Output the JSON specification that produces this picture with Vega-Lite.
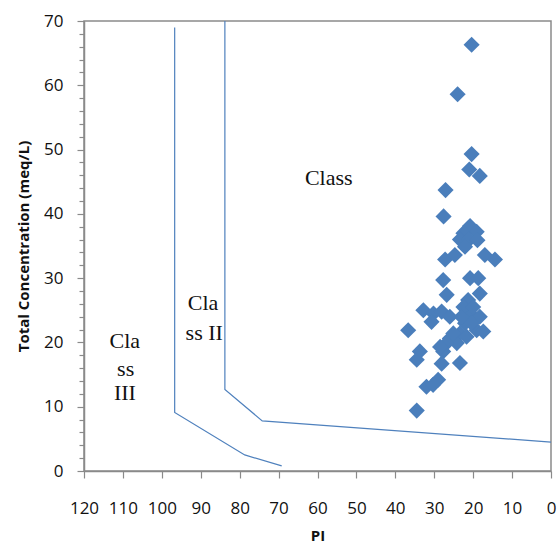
{
  "$schema": "https://vega.github.io/schema/vega-lite/v6.json",
  "width": 467,
  "height": 450,
  "autosize": "none",
  "padding": {"left": 84, "top": 21, "right": 9, "bottom": 76},
  "background": "white",
  "config": {
    "view": {"stroke": "#8a8a8a", "strokeWidth": 1.5},
    "axis": {
      "domainColor": "#8a8a8a",
      "domainWidth": 1.5,
      "tickColor": "#8a8a8a",
      "tickWidth": 1.2,
      "grid": false,
      "labelFont": "Open Sans",
      "labelFontSize": 17,
      "labelColor": "#111111",
      "titleFont": "Open Sans",
      "titleFontSize": 15,
      "titleFontWeight": "bold",
      "titleColor": "#111111"
    }
  },
  "datasets": {
    "samples": [
      {"pi": 20.4, "tc": 66.3}, {"pi": 24.0, "tc": 58.6}, {"pi": 20.4, "tc": 49.3},
      {"pi": 21.0, "tc": 46.9}, {"pi": 18.3, "tc": 45.9}, {"pi": 27.1, "tc": 43.7},
      {"pi": 27.6, "tc": 39.6}, {"pi": 20.8, "tc": 38.1}, {"pi": 19.1, "tc": 37.2},
      {"pi": 22.5, "tc": 37.0}, {"pi": 23.4, "tc": 36.0}, {"pi": 21.0, "tc": 36.0},
      {"pi": 18.9, "tc": 35.9}, {"pi": 22.1, "tc": 34.9}, {"pi": 27.2, "tc": 32.9},
      {"pi": 24.7, "tc": 33.6}, {"pi": 17.0, "tc": 33.6}, {"pi": 14.4, "tc": 32.9},
      {"pi": 27.7, "tc": 29.7}, {"pi": 20.8, "tc": 30.0}, {"pi": 18.7, "tc": 30.0},
      {"pi": 18.3, "tc": 27.6}, {"pi": 26.8, "tc": 27.4}, {"pi": 21.3, "tc": 26.6},
      {"pi": 32.8, "tc": 25.0}, {"pi": 30.2, "tc": 24.5}, {"pi": 28.1, "tc": 24.8},
      {"pi": 26.0, "tc": 24.0}, {"pi": 30.7, "tc": 23.2}, {"pi": 20.8, "tc": 24.5},
      {"pi": 18.3, "tc": 24.0}, {"pi": 36.7, "tc": 21.9}, {"pi": 22.1, "tc": 23.0},
      {"pi": 23.4, "tc": 21.4}, {"pi": 19.1, "tc": 21.9}, {"pi": 17.4, "tc": 21.7},
      {"pi": 26.0, "tc": 20.6}, {"pi": 24.2, "tc": 19.9}, {"pi": 33.7, "tc": 18.6},
      {"pi": 34.5, "tc": 17.3}, {"pi": 27.7, "tc": 18.6}, {"pi": 28.1, "tc": 16.7},
      {"pi": 23.4, "tc": 16.8}, {"pi": 32.0, "tc": 13.1}, {"pi": 29.0, "tc": 14.2},
      {"pi": 30.3, "tc": 13.4}, {"pi": 34.5, "tc": 9.4}, {"pi": 22.5, "tc": 25.5},
      {"pi": 20.0, "tc": 25.5}, {"pi": 23.0, "tc": 24.0}, {"pi": 20.4, "tc": 23.0},
      {"pi": 25.1, "tc": 21.4}, {"pi": 21.7, "tc": 20.9}, {"pi": 26.8, "tc": 19.9},
      {"pi": 28.5, "tc": 19.3}
    ],
    "bounds": [
      {"line": "A", "ord": 1, "pi": 96.7, "tc": 69.0},
      {"line": "A", "ord": 2, "pi": 96.7, "tc": 9.1},
      {"line": "A", "ord": 3, "pi": 78.7, "tc": 2.5},
      {"line": "A", "ord": 4, "pi": 69.2, "tc": 0.8},
      {"line": "B", "ord": 1, "pi": 83.8, "tc": 70.0},
      {"line": "B", "ord": 2, "pi": 83.8, "tc": 12.7},
      {"line": "B", "ord": 3, "pi": 74.2, "tc": 7.8},
      {"line": "B", "ord": 4, "pi": 0.0, "tc": 4.5}
    ],
    "labels": [
      {"pi": 57.1, "tc": 45.6, "label": "Class"},
      {"pi": 89.4, "tc": 26.1, "label": "Cla"},
      {"pi": 89.1, "tc": 21.5, "label": "ss II"},
      {"pi": 109.5, "tc": 20.3, "label": "Cla"},
      {"pi": 109.3, "tc": 15.8, "label": "ss"},
      {"pi": 109.5, "tc": 12.1, "label": "III"}
    ]
  },
  "encoding": {
    "x": {
      "field": "pi",
      "type": "quantitative",
      "scale": {"domain": [0, 120], "reverse": true, "nice": false, "zero": false},
      "axis": {
        "title": "PI",
        "values": [0, 10, 20, 30, 40, 50, 60, 70, 80, 90, 100, 110, 120],
        "tickSize": 7,
        "labelPadding": 22,
        "labelOverlap": false,
        "labelFlush": false,
        "titlePadding": 12
      }
    },
    "y": {
      "field": "tc",
      "type": "quantitative",
      "scale": {"domain": [0, 70], "nice": false, "zero": true},
      "axis": {
        "title": "Total Concentration (meq/L)",
        "values": [0, 2, 4, 6, 8, 10, 12, 14, 16, 18, 20, 22, 24, 26, 28, 30, 32, 34, 36, 38, 40, 42, 44, 46, 48, 50, 52, 54, 56, 58, 60, 62, 64, 66, 68, 70],
        "labelExpr": "datum.value % 10 === 0 ? datum.label : ''",
        "tickSize": {"condition": {"test": "datum.value % 10 === 0", "value": 7}, "value": 5},
        "labelPadding": 14,
        "labelOverlap": false,
        "labelFlush": false,
        "titlePadding": 12
      }
    }
  },
  "layer": [
    {
      "data": {"name": "bounds"},
      "mark": {"type": "line", "color": "#4f81bd", "strokeWidth": 1.2, "clip": true},
      "encoding": {
        "detail": {"field": "line"},
        "order": {"field": "ord", "type": "quantitative"}
      }
    },
    {
      "data": {"name": "samples"},
      "mark": {"type": "point", "shape": "diamond", "filled": true, "color": "#4a7ebb", "opacity": 1, "size": 260}
    },
    {
      "data": {"name": "labels"},
      "mark": {"type": "text", "font": "Liberation Serif", "fontSize": 22, "color": "#111111", "align": "center", "baseline": "middle"},
      "encoding": {"text": {"field": "label"}}
    }
  ]
}
